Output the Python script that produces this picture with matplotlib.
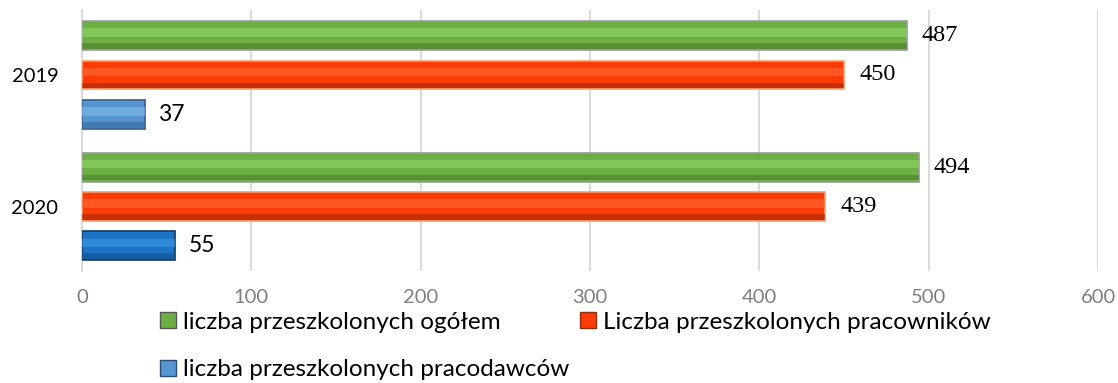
import matplotlib.pyplot as plt
import numpy as np
from matplotlib.patches import Patch

plt.rcParams['font.serif'] = ['Liberation Serif', 'DejaVu Serif']

years = ['2019', '2020']
ogolem = [487, 494]
pracownikow = [450, 439]
pracodawcow = [37, 55]
series_names = ['liczba przeszkolonych ogółem', 'Liczba przeszkolonych pracowników',
                'liczba przeszkolonych pracodawców']
xticks = [0, 100, 200, 300, 400, 500, 600]

# kolory: (glowny, jasny pasek, ciemny pasek, obramowanie)
green = ('#6cb043', '#94d86c', '#4b7c30', '#9a9a9a')
red = ('#fb3c07', '#ff6a38', '#a8290a', '#f2a070')
blue19 = ('#5596d2', '#86bbe8', '#38689a', '#3a5f85')
blue20 = ('#1c74c6', '#3b98e2', '#124f8c', '#10385f')

fig = plt.figure(figsize=(11.18, 3.83), dpi=100)
ax = fig.add_axes([82/1118, 1-271/383, 1016/1118, 261/383])

y = np.arange(len(years))
off = 0.30
h = 0.22

def bevel_bar(yy, vals, cols):
    for i, (v, c) in enumerate(zip(vals, cols)):
        base, light, dark, edge = c
        ax.barh(yy[i], v, height=h, color=base, edgecolor=edge, linewidth=1.2, zorder=3)
        ax.barh(yy[i] - h*0.1, v, height=h*0.3, color=light, linewidth=0, zorder=4, alpha=0.6)
        ax.barh(yy[i] + h*0.36, v, height=h*0.2, color=dark, linewidth=0, zorder=4, alpha=0.6)

bevel_bar(y - off, ogolem, [green, green])
bevel_bar(y, pracownikow, [red, red])
bevel_bar(y + off, pracodawcow, [blue19, blue20])

for i in range(len(years)):
    ax.text(ogolem[i] + 9, y[i] - off, str(ogolem[i]), va='center', ha='left',
            fontsize=17.5, family='serif')
    ax.text(pracownikow[i] + 9, y[i], str(pracownikow[i]), va='center', ha='left',
            fontsize=17.5, family='serif')
    ax.text(pracodawcow[i] + 8, y[i] + off, str(pracodawcow[i]), va='center', ha='left',
            fontsize=16.5, family='Lato')

ax.set_xlim(0, 600)
ax.set_ylim(1 + (271-206.5)/131.5, -(75-10)/131.5)
ax.set_xticks(xticks)
ax.set_xticklabels([str(t) for t in xticks], color='#7f7f7f', fontsize=14.5, family='Lato')
ax.set_yticks(y)
ax.set_yticklabels(years, fontsize=14.5, family='Lato')
ax.tick_params(length=0)
ax.tick_params(axis='x', pad=13)
ax.tick_params(axis='y', pad=17)
ax.grid(axis='x', color='#d9d9d9', linewidth=1.3, zorder=0)
ax.set_axisbelow(True)
for s in ['top', 'right', 'bottom']:
    ax.spines[s].set_visible(False)
ax.spines['left'].set_color('#d9d9d9')
ax.spines['left'].set_linewidth(1.3)

# kolejnosc kolumnami: ogolem, pracodawcow | pracownikow
handles = [Patch(facecolor=green[0], edgecolor='#555555'),
           Patch(facecolor=blue19[0], edgecolor='#2a4a70'),
           Patch(facecolor=red[0], edgecolor='#8a3010')]
labels = [series_names[0], series_names[2], series_names[1]]
fig.legend(handles, labels, loc='upper left', bbox_to_anchor=(150/1118, 1-302/383),
           ncol=2, frameon=False, prop={'family': 'Lato', 'size': 17.5},
           handlelength=0.65, handleheight=0.65, handletextpad=0.3,
           columnspacing=0.45, labelspacing=1.1, borderaxespad=0)

plt.savefig('out.png', dpi=100)
